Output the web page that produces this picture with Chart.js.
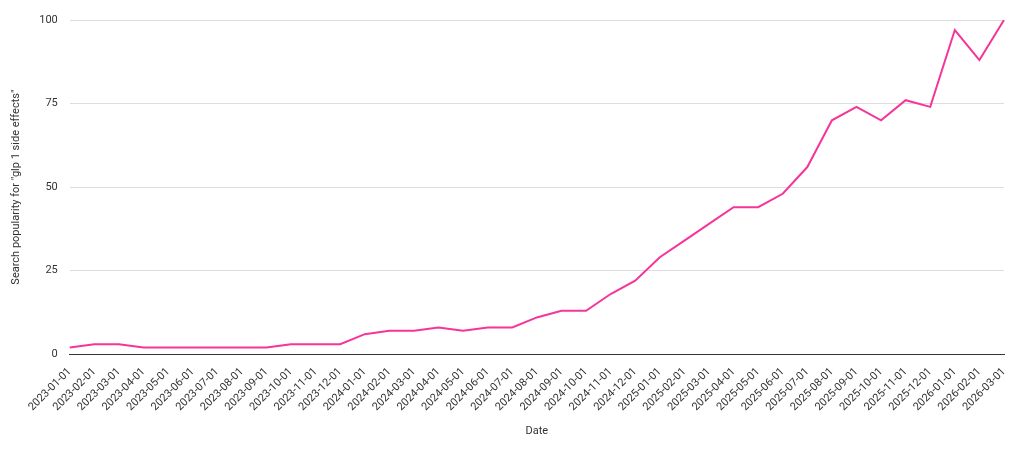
<!DOCTYPE html>
<html>
<head>
<meta charset="utf-8">
<script src="https://cdn.jsdelivr.net/npm/chart.js@4/dist/chart.umd.min.js"></script>
<style>
html,body{margin:0;padding:0;background:#fff;}
</style>
</head>
<body>
<canvas id="chart" width="1024" height="456"></canvas>
<script>
//Data
const dates = [
"2023-01-01","2023-02-01","2023-03-01","2023-04-01","2023-05-01","2023-06-01",
"2023-07-01","2023-08-01","2023-09-01","2023-10-01","2023-11-01","2023-12-01",
"2024-01-01","2024-02-01","2024-03-01","2024-04-01","2024-05-01","2024-06-01",
"2024-07-01","2024-08-01","2024-09-01","2024-10-01","2024-11-01","2024-12-01",
"2025-01-01","2025-02-01","2025-03-01","2025-04-01","2025-05-01","2025-06-01",
"2025-07-01","2025-08-01","2025-09-01","2025-10-01","2025-11-01","2025-12-01",
"2026-01-01","2026-02-01","2026-03-01"
];
const popularity = [
2,3,3,2,2,2,2,2,2,3,3,3,
6,7,7,8,7,8,8,11,13,13,18,22,
29,34,39,44,44,48,56,70,74,70,76,74,
97,88,100
];
const yTicks = [0,25,50,75,100];

Chart.defaults.font.family = "Roboto, 'Liberation Sans', sans-serif";
Chart.defaults.font.size = 11;
Chart.defaults.color = '#333';

new Chart(document.getElementById('chart'), {
  type: 'line',
  data: {
    labels: dates,
    datasets: [{
      data: popularity,
      borderColor: '#f5359a',
      borderWidth: 2,
      pointRadius: 0,
      tension: 0,
      fill: false
    }]
  },
  options: {
    responsive: false,
    animation: false,
    layout: {padding: {left: 6, right: 20, top: 20, bottom: 14}},
    plugins: {legend: {display: false}, tooltip: {enabled: false}},
    scales: {
      x: {
        offset: false,
        grid: {display: false},
        border: {color: '#333'},
        ticks: {autoSkip: false, maxRotation: 45, minRotation: 45},
        title: {display: true, text: 'Date', padding: {top: 8}}
      },
      y: {
        min: 0, max: 100,
        afterBuildTicks: function(axis) { axis.ticks = yTicks.map(v => ({value: v})); },
        grid: {color: '#ddd', drawTicks: false},
        border: {display: false},
        ticks: {padding: 12},
        title: {display: true, text: 'Search popularity for "glp 1 side effects"'}
      }
    }
  }
});
</script>
</body>
</html>
